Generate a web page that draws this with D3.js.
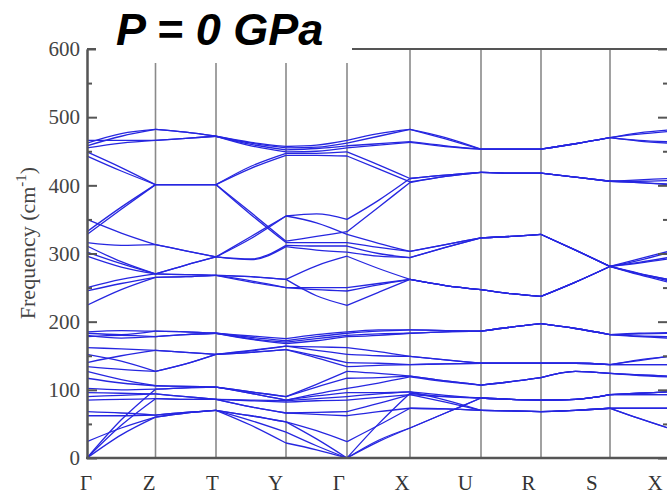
<!DOCTYPE html>
<html>
<head>
<meta charset="utf-8">
<script src="https://cdn.jsdelivr.net/npm/d3@7"></script>
<style>
  body { margin: 0; background: #fff; }
</style>
</head>
<body>
<div id="chart"></div>
<script>
// high-symmetry path
const kLabels = ["Γ", "Z", "T", "Y", "Γ", "X", "U", "R", "S", "X"];
const kPath = [0, 0.685, 1.29, 1.99, 2.60, 3.23, 3.94, 4.54, 5.23, 5.81];
const yTicks = [0, 100, 200, 300, 400, 500, 600];
const yMinor = [50, 150, 250, 350, 450, 550];

// band frequencies (cm-1), sampled at each k-point and at the middle of each segment:
// Γ . Z . T . Y . Γ . X . U . R . S . X
const bandsTop = [
    [462, 476, 482, 478, 472, 462, 455, 456, 462, 472, 482, 468, 453, 453, 453, 461, 470, 477, 481],
    [458, 472, 482, 478, 472, 460, 452, 454, 458, 461, 464, 458, 453, 453, 453, 461, 470, 466, 464],
    [466, 466, 466, 469, 472, 463, 457, 459, 466, 476, 482, 470, 453, 453, 453, 461, 470, 475, 479],
    [455, 462, 466, 469, 472, 458, 449, 450, 455, 459, 463, 457, 453, 453, 453, 461, 470, 465, 462],
    [449, 426, 401, 401, 401, 428, 447, 447, 449, 430, 410, 415, 419, 418, 418, 412, 406, 404, 402],
    [443, 421, 401, 401, 401, 425, 444, 444, 443, 424, 405, 413, 419, 418, 418, 412, 406, 406, 407],
    [332, 368, 401, 401, 401, 360, 318, 325, 332, 368, 404, 413, 419, 418, 418, 412, 406, 408, 410],
    [328, 365, 401, 401, 401, 357, 316, 316, 316, 309, 303, 313, 323, 325, 328, 305, 281, 292, 303]
]
const bandsMid = [
    [350, 330, 313, 304, 295, 325, 355, 358, 350, 378, 410, 415, 419, 418, 418, 412, 406, 404, 401],
    [316, 312, 313, 304, 295, 322, 355, 345, 328, 315, 303, 313, 323, 325, 328, 305, 281, 290, 301],
    [311, 288, 270, 283, 295, 292, 312, 311, 311, 300, 294, 309, 323, 325, 328, 305, 281, 287, 294],
    [302, 285, 270, 283, 295, 291, 310, 305, 302, 296, 294, 309, 323, 325, 328, 305, 281, 286, 292],
    [296, 280, 270, 269, 268, 266, 262, 282, 296, 278, 262, 253, 247, 241, 237, 258, 281, 271, 262],
    [250, 262, 270, 269, 268, 260, 250, 250, 250, 256, 262, 253, 247, 241, 237, 258, 281, 270, 260],
    [245, 256, 265, 266, 268, 258, 250, 247, 245, 254, 262, 253, 247, 241, 237, 258, 281, 269, 258],
    [224, 247, 265, 266, 268, 266, 262, 238, 224, 243, 262, 253, 247, 241, 237, 258, 281, 270, 262]
]
const bands180 = [
    [185, 187, 186, 185, 183, 179, 175, 181, 185, 188, 188, 187, 186, 192, 197, 190, 181, 183, 184],
    [183, 181, 186, 185, 183, 177, 172, 178, 183, 186, 188, 187, 186, 192, 197, 190, 181, 182, 183],
    [180, 176, 178, 181, 183, 175, 170, 175, 180, 182, 183, 185, 186, 192, 197, 190, 181, 179, 178],
    [178, 180, 178, 181, 183, 174, 168, 172, 178, 180, 183, 185, 186, 192, 197, 190, 181, 178, 176]
]
const bandsLow = [
    [162, 160, 158, 155, 152, 158, 164, 163, 162, 156, 149, 144, 139, 139, 139, 139, 137, 144, 149],
    [140, 150, 158, 155, 152, 157, 164, 158, 152, 150, 149, 144, 139, 139, 139, 139, 137, 143, 149],
    [152, 142, 127, 138, 152, 155, 159, 150, 140, 139, 137, 138, 139, 139, 139, 139, 137, 137, 137],
    [134, 130, 127, 138, 152, 155, 159, 147, 134, 136, 137, 138, 139, 139, 139, 139, 137, 137, 137],
    [127, 115, 106, 105, 104, 97, 90, 108, 127, 124, 120, 113, 107, 112, 118, 127, 124, 122, 120],
    [117, 110, 106, 105, 104, 97, 90, 104, 117, 118, 120, 113, 107, 112, 118, 127, 124, 122, 120],
    [102, 100, 101, 103, 104, 95, 85, 94, 102, 110, 119, 112, 107, 112, 118, 127, 124, 121, 119],
    [0, 56, 101, 103, 104, 95, 85, 91, 96, 96, 97, 92, 88, 86, 85, 86, 93, 95, 97],
    [96, 95, 94, 90, 86, 85, 84, 87, 90, 94, 97, 85, 70, 69, 68, 70, 73, 73, 73],
    [90, 92, 94, 90, 86, 84, 82, 84, 85, 89, 93, 90, 88, 86, 85, 86, 93, 93, 93],
    [85, 86, 87, 86, 86, 75, 66, 67, 68, 80, 93, 82, 70, 69, 68, 70, 73, 73, 73],
    [0, 48, 87, 86, 86, 75, 66, 64, 62, 68, 73, 72, 70, 69, 68, 70, 73, 58, 44],
    [68, 66, 63, 67, 70, 62, 53, 40, 24, 48, 73, 72, 70, 69, 68, 70, 73, 58, 44],
    [62, 62, 63, 67, 70, 62, 53, 28, 0, 50, 95, 90, 88, 86, 85, 86, 93, 95, 97],
    [24, 44, 60, 66, 70, 55, 38, 18, 0, 24, 44, 66, 88, 86, 85, 86, 93, 95, 97],
    [0, 34, 60, 66, 70, 48, 22, 12, 0, 26, 44, 66, 88, 86, 85, 86, 93, 93, 93]
]

const width = 667,
    height = 496;
const serif = "'Liberation Serif', 'Times New Roman', 'DejaVu Serif', serif"

const svg = d3.select("#chart").append("svg")
    .attr("width", width)
    .attr("height", height);

const x = d3.scaleLinear()
    .domain([0, kPath[kPath.length - 1]])
    .range([87, 668])
const y = d3.scaleLinear()
    .domain([0, 600])
    .range([458, 49])
// the k labels sit evenly spaced under the frame
const xLab = d3.scalePoint()
    .domain(d3.range(kLabels.length))
    .range([86, 655])

// vertical lines at the high-symmetry points
svg.append("g")
    .selectAll("line")
    .data(kPath.slice(1, -1))
    .enter().append("line")
    .attr("x1", d => x(d)).attr("x2", d => x(d))
    .attr("y1", y(600)).attr("y2", y(0))
    .attr("stroke", "#8a8a8a")
    .attr("stroke-width", 1.6)

// bands, one path per band and segment so kinks at Γ stay sharp
const line = d3.line()
    .x(d => x(d[0]))
    .y(d => y(d[1]))
    .curve(d3.curveMonotoneX)

const allBands = bandsTop.concat(bandsMid, bands180, bandsLow)
const pieces = []
allBands.forEach(b => {
    for (let s = 0; s < kPath.length - 1; s++) {
        const k0 = kPath[s], k1 = kPath[s + 1]
        pieces.push([[k0, b[2 * s]], [(k0 + k1) / 2, b[2 * s + 1]], [k1, b[2 * s + 2]]])
    }
})

svg.append("g")
    .attr("fill", "none")
    .attr("stroke", "#2626e0")
    .attr("stroke-width", 1.3)
    .selectAll("path")
    .data(pieces)
    .enter().append("path")
    .attr("d", line)

// frame and ticks
const axisColor = "#555"
const left = svg.append("g")
    .attr("transform", `translate(${x(0)},0)`)
    .call(d3.axisLeft(y).tickValues(yTicks).tickSizeInner(-10).tickSizeOuter(0).tickPadding(7))
left.append("g")
    .call(d3.axisLeft(y).tickValues(yMinor).tickSizeInner(-5).tickSizeOuter(0).tickFormat(""))
const right = svg.append("g")
    .attr("transform", `translate(${x(kPath[kPath.length - 1])},0)`)
    .call(d3.axisRight(y).tickValues(yTicks).tickSizeInner(-10).tickSizeOuter(0).tickFormat(""))
right.append("g")
    .call(d3.axisRight(y).tickValues(yMinor).tickSizeInner(-5).tickSizeOuter(0).tickFormat(""))

svg.selectAll(".domain, .tick line")
    .attr("stroke", axisColor)
    .attr("stroke-width", 2)
left.attr("font-family", null).attr("font-size", null)
left.selectAll(".tick text")
    .style("font-family", serif)
    .style("font-size", "21px")
    .attr("fill", "#444")

svg.append("line")
    .attr("x1", x(0) - 1).attr("x2", x(kPath[kPath.length - 1]))
    .attr("y1", y(0)).attr("y2", y(0))
    .attr("stroke", axisColor).attr("stroke-width", 2.4)
svg.append("line")
    .attr("x1", x(0)).attr("x2", x(kPath[kPath.length - 1]))
    .attr("y1", y(600)).attr("y2", y(600))
    .attr("stroke", axisColor).attr("stroke-width", 2)

// k labels
svg.append("g")
    .selectAll("text")
    .data(kLabels)
    .enter().append("text")
    .attr("x", (d, i) => xLab(i))
    .attr("y", 490)
    .attr("text-anchor", "middle")
    .style("font-family", serif)
    .style("font-size", "21px")
    .attr("fill", "#333")
    .text(d => d)

// y title
const yTitle = svg.append("text")
    .attr("transform", "translate(35,243) rotate(-90)")
    .attr("text-anchor", "middle")
    .style("font-family", serif)
    .style("font-size", "22px")
    .attr("fill", "#444")
yTitle.append("tspan").text("Frequency (cm")
yTitle.append("tspan").attr("dy", -9).style("font-size", "15px").text("-1")
yTitle.append("tspan").attr("dy", 9).text(")")

// white box behind the pressure label
svg.append("rect")
    .attr("x", 96).attr("y", 0)
    .attr("width", 256).attr("height", 63)
    .attr("fill", "#fff")

svg.append("text")
    .attr("x", 116)
    .attr("y", 45)
    .style("font-family", "'Liberation Sans', Arial, sans-serif")
    .style("font-weight", "bold")
    .style("font-style", "italic")
    .style("font-size", "45px")
    .attr("fill", "#000")
    .text("P = 0 GPa")
</script>
</body>
</html>
